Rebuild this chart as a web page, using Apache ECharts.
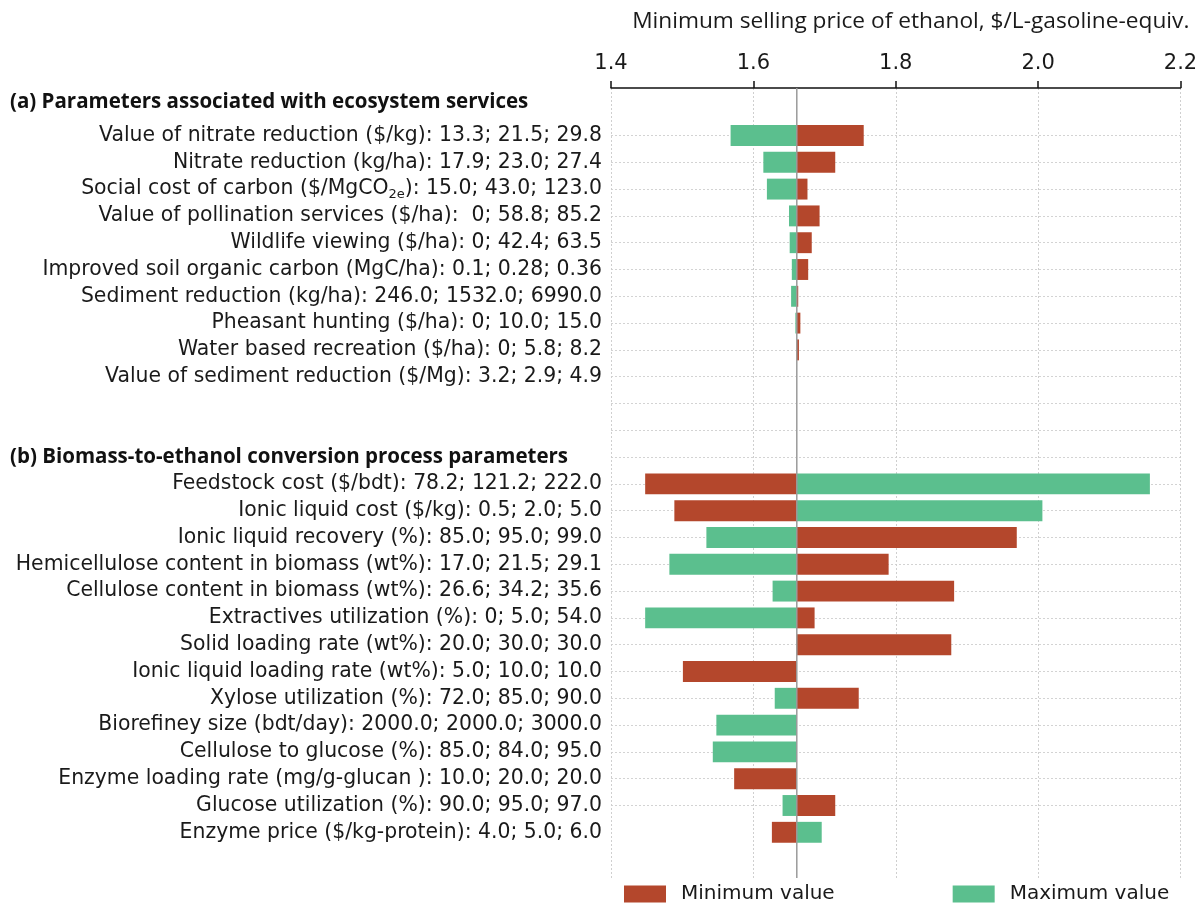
<!DOCTYPE html>
<html>
<head>
<meta charset="utf-8">
<script src="https://cdn.jsdelivr.net/npm/echarts@6/dist/echarts.min.js"></script>
<style>
  html, body { margin: 0; padding: 0; background: #ffffff; }
  #chart { width: 1204px; height: 906px; }
</style>
</head>
<body>
<div id="chart"></div>
<script>
// Tornado chart: minimum selling price of ethanol when each parameter is set
// to its minimum (red) or maximum (green) value, around the base-case price.
const BASE_PRICE = 1.661;

const headerEco = '(a) Parameters associated with ecosystem services';
const headerProc = '(b) Biomass-to-ethanol conversion process parameters';

const ecoLabels = [
  'Value of nitrate reduction ($/kg): 13.3; 21.5; 29.8',
  'Nitrate reduction (kg/ha): 17.9; 23.0; 27.4',
  'Social cost of carbon ($/MgCO2e): 15.0; 43.0; 123.0',
  'Value of pollination services ($/ha):  0; 58.8; 85.2',
  'Wildlife viewing ($/ha): 0; 42.4; 63.5',
  'Improved soil organic carbon (MgC/ha): 0.1; 0.28; 0.36',
  'Sediment reduction (kg/ha): 246.0; 1532.0; 6990.0',
  'Pheasant hunting ($/ha): 0; 10.0; 15.0',
  'Water based recreation ($/ha): 0; 5.8; 8.2',
  'Value of sediment reduction ($/Mg): 3.2; 2.9; 4.9'
];
const ecoMin = [1.755, 1.715, 1.676, 1.693, 1.682, 1.677, 1.663, 1.666, 1.664, 1.661];
const ecoMax = [1.568, 1.614, 1.619, 1.650, 1.651, 1.654, 1.653, 1.659, 1.661, 1.661];

const procLabels = [
  'Feedstock cost ($/bdt): 78.2; 121.2; 222.0',
  'Ionic liquid cost ($/kg): 0.5; 2.0; 5.0',
  'Ionic liquid recovery (%): 85.0; 95.0; 99.0',
  'Hemicellulose content in biomass (wt%): 17.0; 21.5; 29.1',
  'Cellulose content in biomass (wt%): 26.6; 34.2; 35.6',
  'Extractives utilization (%): 0; 5.0; 54.0',
  'Solid loading rate (wt%): 20.0; 30.0; 30.0',
  'Ionic liquid loading rate (wt%): 5.0; 10.0; 10.0',
  'Xylose utilization (%): 72.0; 85.0; 90.0',
  'Biorefiney size (bdt/day): 2000.0; 2000.0; 3000.0',
  'Cellulose to glucose (%): 85.0; 84.0; 95.0',
  'Enzyme loading rate (mg/g-glucan ): 10.0; 20.0; 20.0',
  'Glucose utilization (%): 90.0; 95.0; 97.0',
  'Enzyme price ($/kg-protein): 4.0; 5.0; 6.0'
];
const procMin = [1.448, 1.489, 1.970, 1.790, 1.882, 1.686, 1.878, 1.501, 1.748, 1.661, 1.661, 1.573, 1.715, 1.626];
const procMax = [2.157, 2.006, 1.534, 1.482, 1.627, 1.448, 1.661, 1.661, 1.630, 1.548, 1.543, 1.661, 1.641, 1.696];

const priceMin = 1.4;
const priceMax = 2.2;
const priceStep = 0.2;

const seriesNames = ['Minimum value', 'Maximum value'];
const seriesColors = ['#b4472c', '#5bbf8e'];

// Row layout (top to bottom): group header, its rows, two spacer rows,
// second header, its rows, one trailing spacer.
const categories = [headerEco].concat(ecoLabels, ['', '', headerProc], procLabels, ['']);
const ecoStart = 1;
const procStart = categories.indexOf(headerProc) + 1;

const minData = ecoMin.map((v, i) => [v, ecoStart + i])
  .concat(procMin.map((v, i) => [v, procStart + i]));
const maxData = ecoMax.map((v, i) => [v, ecoStart + i])
  .concat(procMax.map((v, i) => [v, procStart + i]));

// Horizontal guide lines run from the first ecosystem row down to the
// second-to-last process row.
const guideFirst = ecoStart;
const guideLast = procStart + procLabels.length - 2;

const labelFont = 'DejaVu Sans';
const headFont = 'Open Sans';

function renderBar(params, api) {
  const value = api.value(0);
  const row = api.value(1);
  const start = api.coord([BASE_PRICE, row]);
  const end = api.coord([value, row]);
  const h = api.size([0, 1])[1] * 0.78;
  return {
    type: 'rect',
    shape: {
      x: Math.min(start[0], end[0]),
      y: start[1] - h / 2,
      width: Math.abs(end[0] - start[0]),
      height: h
    },
    style: api.style()
  };
}

const chart = echarts.init(document.getElementById('chart'), null, { renderer: 'canvas' });

chart.setOption({
  animation: false,
  backgroundColor: '#ffffff',
  grid: [
    { left: 611, width: 569.5, top: 95.3, height: 777.2 },
    { left: 611, width: 569.5, top: 88, bottom: 28 }
  ],
  legend: {
    data: seriesNames,
    left: 619,
    top: 879,
    icon: 'rect',
    itemWidth: 42,
    itemHeight: 17,
    itemGap: 118,
    textStyle: { fontFamily: labelFont, fontSize: 20, color: '#1a1a1a', padding: [0, 0, 0, 10] }
  },
  xAxis: [
    { gridIndex: 0, type: 'value', min: priceMin, max: priceMax, show: false },
    {
      gridIndex: 1,
      type: 'value',
      position: 'top',
      min: priceMin,
      max: priceMax,
      interval: priceStep,
      name: 'Minimum selling price of ethanol, $/L-gasoline-equiv.',
      nameLocation: 'middle',
      nameGap: 55,
      nameTextStyle: { fontFamily: headFont, fontSize: 22.7, color: '#1a1a1a', padding: [0, 0, 0, 30] },
      axisLine: { show: true, onZero: false, lineStyle: { color: '#111', width: 1.5 } },
      axisTick: { show: true, inside: false, length: 7, lineStyle: { color: '#111', width: 1.5 } },
      axisLabel: {
        margin: 14,
        fontFamily: labelFont,
        fontSize: 21,
        color: '#1a1a1a',
        formatter: v => v.toFixed(1)
      },
      splitLine: { show: true, lineStyle: { color: '#cfcfcf', width: 1, type: [2, 2] } }
    }
  ],
  yAxis: [
    {
      gridIndex: 0,
      type: 'category',
      inverse: true,
      data: categories,
      axisLine: { show: false },
      axisTick: { show: false },
      axisLabel: {
        interval: 0,
        margin: 9,
        fontFamily: labelFont,
        fontSize: 20.4,
        color: '#1a1a1a',
        formatter: function (value) {
          if (value === headerEco) return '{ha|' + value + '}';
          if (value === headerProc) return '{hb|' + value + '}';
          return value.replace('MgCO2e', 'MgCO{sub|2e}');
        },
        rich: {
          ha: { fontFamily: headFont, fontWeight: 'bold', fontSize: 20.5, color: '#111', width: 592, align: 'left', padding: [0, 0, 13, 0] },
          hb: { fontFamily: headFont, fontWeight: 'bold', fontSize: 20.5, color: '#111', width: 592, align: 'left' },
          sub: { fontFamily: labelFont, fontSize: 13, color: '#1a1a1a', padding: [12, 0, 0, 0] }
        }
      },
      splitLine: {
        show: true,
        alignWithLabel: true,
        interval: (index) => index >= guideFirst && index <= guideLast,
        lineStyle: { color: '#d3d3d3', width: 1, type: [2, 2] }
      }
    },
    { gridIndex: 1, type: 'value', min: 0, max: 1, show: false }
  ],
  series: [
    {
      name: seriesNames[0],
      type: 'custom',
      xAxisIndex: 0,
      yAxisIndex: 0,
      itemStyle: { color: seriesColors[0] },
      encode: { x: 0, y: 1 },
      renderItem: renderBar,
      data: minData,
      z: 3
    },
    {
      name: seriesNames[1],
      type: 'custom',
      xAxisIndex: 0,
      yAxisIndex: 0,
      itemStyle: { color: seriesColors[1] },
      encode: { x: 0, y: 1 },
      renderItem: renderBar,
      data: maxData,
      z: 3
    },
    {
      name: 'base',
      type: 'line',
      xAxisIndex: 1,
      yAxisIndex: 1,
      data: [[BASE_PRICE, 0], [BASE_PRICE, 1]],
      symbol: 'none',
      silent: true,
      lineStyle: { color: '#9a9a9a', width: 1.5 },
      z: 5
    }
  ]
});
</script>
</body>
</html>
